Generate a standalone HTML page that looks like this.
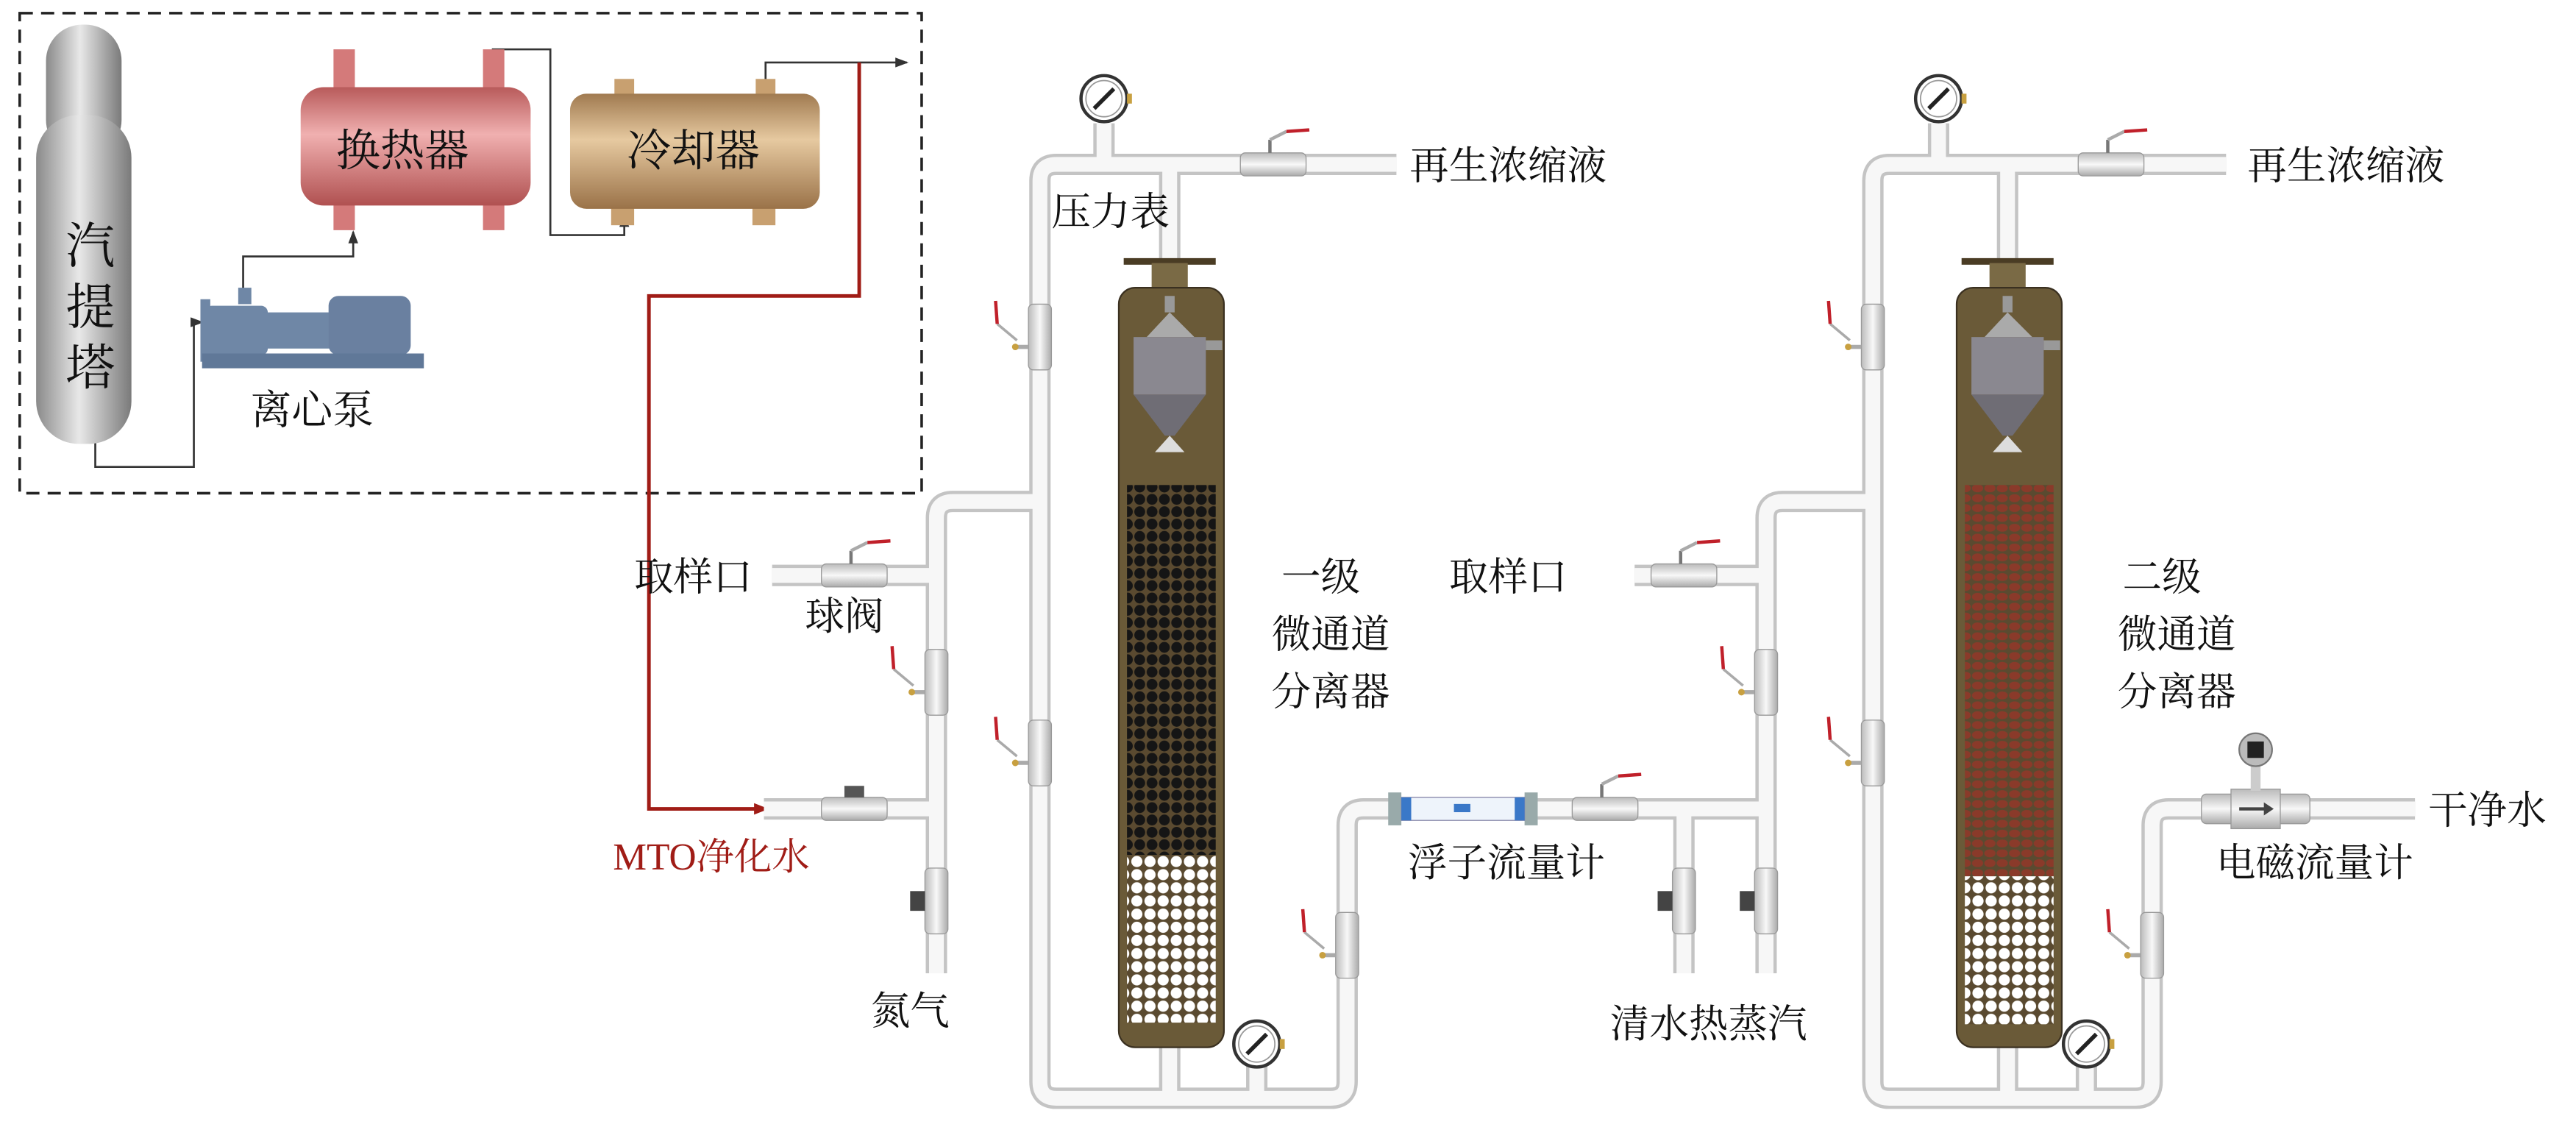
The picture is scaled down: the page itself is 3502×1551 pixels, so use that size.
<!DOCTYPE html>
<html><head><meta charset="utf-8"><style>
html,body{margin:0;padding:0;background:#fff;}
svg{display:block;}
text{font-family:"Liberation Serif","Noto Serif CJK SC","Noto Sans CJK SC",serif;fill:#111;}
</style></head><body>
<svg width="3502" height="1551" viewBox="0 0 1568 694" preserveAspectRatio="none" xmlns="http://www.w3.org/2000/svg">
<defs>
<linearGradient id="gcol" x1="0" x2="1"><stop offset="0" stop-color="#8a8a8a"/><stop offset="0.45" stop-color="#e8e8e8"/><stop offset="1" stop-color="#7a7a7a"/></linearGradient>
<linearGradient id="ghx" x1="0" y1="0" x2="0" y2="1"><stop offset="0" stop-color="#b85a5a"/><stop offset="0.4" stop-color="#f0b0b0"/><stop offset="1" stop-color="#b05050"/></linearGradient>
<linearGradient id="gcl" x1="0" y1="0" x2="0" y2="1"><stop offset="0" stop-color="#a07a50"/><stop offset="0.4" stop-color="#e6c9a0"/><stop offset="1" stop-color="#9a7248"/></linearGradient>
<linearGradient id="gvh" x1="0" y1="0" x2="0" y2="1"><stop offset="0" stop-color="#bbb"/><stop offset="0.5" stop-color="#f8f8f8"/><stop offset="1" stop-color="#aaa"/></linearGradient>
<linearGradient id="gvv" x1="0" x2="1"><stop offset="0" stop-color="#bbb"/><stop offset="0.5" stop-color="#f8f8f8"/><stop offset="1" stop-color="#aaa"/></linearGradient>
<pattern id="pblk" width="7.5" height="7.5" patternUnits="userSpaceOnUse"><rect width="7.5" height="7.5" fill="#5a4a30"/><circle cx="3.75" cy="3.75" r="3.3" fill="#151515"/></pattern>
<pattern id="pred" width="7.5" height="6" patternUnits="userSpaceOnUse"><rect width="7.5" height="6" fill="#5a4a30"/><ellipse cx="3.75" cy="3" rx="3.4" ry="2.4" fill="#8a3a2a"/></pattern>
<pattern id="pwht" width="8" height="8" patternUnits="userSpaceOnUse"><rect width="8" height="8" fill="#5a4a30"/><circle cx="4" cy="4" r="3.4" fill="#fff"/></pattern>
<marker id="arr" markerWidth="8" markerHeight="6" refX="7" refY="3" orient="auto" markerUnits="userSpaceOnUse"><path d="M0,0 L8,3 L0,6 z" fill="#333"/></marker>
<marker id="arrR" markerWidth="9" markerHeight="7" refX="8" refY="3.5" orient="auto" markerUnits="userSpaceOnUse"><path d="M0,0 L9,3.5 L0,7 z" fill="#a01c16"/></marker>
<g id="vh"><rect x="-20" y="-7" width="40" height="14" rx="3" fill="url(#gvh)" stroke="#999" stroke-width="0.6"/><line x1="-2" y1="-7" x2="-2" y2="-15" stroke="#777" stroke-width="2"/><line x1="-2" y1="-15" x2="8" y2="-20" stroke="#aaa" stroke-width="2"/><line x1="8" y1="-20" x2="22" y2="-21" stroke="#c0202a" stroke-width="2"/></g>
<g id="vv"><rect x="-7" y="-20" width="14" height="40" rx="3" fill="url(#gvv)" stroke="#999" stroke-width="0.6"/><line x1="-7" y1="6" x2="-14" y2="6" stroke="#aaa" stroke-width="2.5"/><circle cx="-15" cy="6" r="2" fill="#c8a040"/><line x1="-14" y1="2" x2="-26" y2="-8" stroke="#aaa" stroke-width="1.6"/><line x1="-26" y1="-8" x2="-27" y2="-22" stroke="#c0202a" stroke-width="2"/></g>
<g id="gauge"><circle r="14" fill="#fff" stroke="#333" stroke-width="2"/><circle r="11" fill="none" stroke="#999" stroke-width="0.8"/><line x1="-6" y1="6" x2="6" y2="-6" stroke="#222" stroke-width="2.5"/><rect x="14" y="-3" width="3" height="6" fill="#c8a040"/></g>
</defs>

<rect x="12" y="8" width="549" height="292" fill="none" stroke="#222" stroke-width="1.6" stroke-dasharray="8,5"/>

<polyline points="58,262 58,284 118,284 118,196 123,196" fill="none" stroke="#333" stroke-width="1.2" marker-end="url(#arr)"/>
<polyline points="148,182 148,156 215,156 215,141" fill="none" stroke="#333" stroke-width="1.2" marker-end="url(#arr)"/>
<polyline points="300,38 300,30 335,30 335,143 380,143 380,131" fill="none" stroke="#333" stroke-width="1.2" marker-end="url(#arr)"/>
<polyline points="466,50 466,38 552,38" fill="none" stroke="#333" stroke-width="1.2" marker-end="url(#arr)"/>
<polyline points="523,38 523,180 395,180 395,492 467,492" fill="none" stroke="#a01c16" stroke-width="2.2" marker-end="url(#arrR)"/>

<rect x="28" y="15" width="46" height="80" rx="22" fill="url(#gcol)"/>
<rect x="22" y="70" width="58" height="200" rx="26" fill="url(#gcol)"/>
<text x="55" y="160" font-size="30" text-anchor="middle">汽</text>
<text x="55" y="197" font-size="30" text-anchor="middle">提</text>
<text x="55" y="234" font-size="30" text-anchor="middle">塔</text>

<rect x="203" y="30" width="13" height="27" fill="#d47a7a"/><rect x="294" y="30" width="13" height="27" fill="#d47a7a"/>
<rect x="203" y="122" width="13" height="18" fill="#d47a7a"/><rect x="294" y="122" width="13" height="18" fill="#d47a7a"/>
<rect x="183" y="53" width="140" height="72" rx="14" fill="url(#ghx)"/>
<text x="245" y="101" font-size="27" text-anchor="middle">换热器</text>

<rect x="374" y="48" width="12" height="14" fill="#c8a070"/><rect x="460" y="48" width="12" height="14" fill="#c8a070"/>
<rect x="372" y="122" width="14" height="15" fill="#c8a070"/><rect x="458" y="122" width="14" height="15" fill="#c8a070"/>
<rect x="347" y="57" width="152" height="70" rx="10" fill="url(#gcl)"/>
<text x="422" y="101" font-size="27" text-anchor="middle">冷却器</text>

<g fill="#6f87a6">
<rect x="125" y="186" width="38" height="30" rx="4"/>
<rect x="122" y="182" width="6" height="38"/>
<rect x="160" y="190" width="44" height="22"/>
<rect x="200" y="180" width="50" height="36" rx="6" fill="#6a80a0"/>
<rect x="123" y="215" width="135" height="9" fill="#607898"/>
<rect x="145" y="175" width="8" height="10"/>
</g>
<text x="190" y="258" font-size="25" text-anchor="middle">离心泵</text>
<text x="433" y="529" font-size="23" text-anchor="middle" style="fill:#a01c16">MTO净化水</text>

<g fill="none" stroke-linejoin="round" stroke-linecap="butt">
<g stroke="#c4c4c4" stroke-width="13">
<path d="M850,100 L643,100 Q633,100 633,110 L633,658 Q633,668 643,668 L810,668 Q820,668 820,658 L820,502 Q820,492 830,492 L1075,492"/>
<path d="M672,75 L672,100 M712,100 L712,160 M712,630 L712,668 M765,648 L765,668"/>
<path d="M633,305 L580,305 Q570,305 570,315 L570,592"/>
<path d="M470,350 L570,350 M465,492 L570,492"/>
<path d="M995,350 L1075,350 M1025,492 L1025,592"/>
<path d="M1140,305 L1085,305 Q1075,305 1075,315 L1075,592"/>
<path d="M1355,100 L1150,100 Q1140,100 1140,110 L1140,658 Q1140,668 1150,668 L1300,668 Q1310,668 1310,658 L1310,502 Q1310,492 1320,492 L1470,492"/>
<path d="M1180,75 L1180,100 M1222,100 L1222,160 M1222,630 L1222,668 M1270,648 L1270,668"/>
</g>
<g stroke="#f7f7f7" stroke-width="9">
<path d="M850,100 L643,100 Q633,100 633,110 L633,658 Q633,668 643,668 L810,668 Q820,668 820,658 L820,502 Q820,492 830,492 L1075,492"/>
<path d="M672,75 L672,100 M712,100 L712,160 M712,630 L712,668 M765,648 L765,668"/>
<path d="M633,305 L580,305 Q570,305 570,315 L570,592"/>
<path d="M470,350 L570,350 M465,492 L570,492"/>
<path d="M995,350 L1075,350 M1025,492 L1025,592"/>
<path d="M1140,305 L1085,305 Q1075,305 1075,315 L1075,592"/>
<path d="M1355,100 L1150,100 Q1140,100 1140,110 L1140,658 Q1140,668 1150,668 L1300,668 Q1310,668 1310,658 L1310,502 Q1310,492 1320,492 L1470,492"/>
<path d="M1180,75 L1180,100 M1222,100 L1222,160 M1222,630 L1222,668 M1270,648 L1270,668"/>
</g>
</g>

<g>
<rect x="684" y="157" width="56" height="4" fill="#4a3c24"/><rect x="701" y="160" width="22" height="18" fill="#7a6a45"/>
<rect x="684" y="628" width="56" height="4" fill="#4a3c24"/><rect x="701" y="612" width="22" height="18" fill="#7a6a45"/>
<rect x="681" y="175" width="64" height="462" rx="10" fill="#6a5a38" stroke="#3a3020" stroke-width="1"/>
<rect x="686" y="295" width="54" height="225" fill="url(#pblk)"/>
<rect x="686" y="520" width="54" height="102" fill="url(#pwht)"/>
<rect x="709" y="180" width="6" height="10" fill="#999"/>
<path d="M698,205 L712,190 L727,205 Z" fill="#aaa"/>
<rect x="690" y="205" width="44" height="35" fill="#8a8890"/>
<path d="M690,240 L734,240 L715,265 L709,265 Z" fill="#6f6d75"/>
<path d="M703,275 L712,265 L721,275 Z" fill="#ddd"/>
<rect x="734" y="207" width="10" height="6" fill="#999"/>
</g>
<g>
<rect x="1194" y="157" width="56" height="4" fill="#4a3c24"/><rect x="1211" y="160" width="22" height="18" fill="#7a6a45"/>
<rect x="1194" y="628" width="56" height="4" fill="#4a3c24"/><rect x="1211" y="612" width="22" height="18" fill="#7a6a45"/>
<rect x="1191" y="175" width="64" height="462" rx="10" fill="#6a5a38" stroke="#3a3020" stroke-width="1"/>
<rect x="1196" y="295" width="54" height="238" fill="url(#pred)"/>
<rect x="1196" y="533" width="54" height="90" fill="url(#pwht)"/>
<rect x="1219" y="180" width="6" height="10" fill="#999"/>
<path d="M1208,205 L1222,190 L1237,205 Z" fill="#aaa"/>
<rect x="1200" y="205" width="44" height="35" fill="#8a8890"/>
<path d="M1200,240 L1244,240 L1225,265 L1219,265 Z" fill="#6f6d75"/>
<path d="M1213,275 L1222,265 L1231,275 Z" fill="#ddd"/>
<rect x="1244" y="207" width="10" height="6" fill="#999"/>
</g>

<use href="#gauge" x="672" y="60"/><use href="#gauge" x="1180" y="60"/>
<use href="#gauge" x="765" y="635"/><use href="#gauge" x="1270" y="635"/>

<use href="#vh" x="775" y="100"/><use href="#vh" x="1285" y="100"/>
<use href="#vh" x="520" y="350"/><use href="#vh" x="1025" y="350"/>
<use href="#vh" x="977" y="492"/>
<g transform="translate(520,492)"><rect x="-20" y="-7" width="40" height="14" rx="3" fill="url(#gvh)" stroke="#999" stroke-width="0.6"/><rect x="-6" y="-14" width="12" height="7" fill="#555"/></g>
<use href="#vv" x="633" y="205"/><use href="#vv" x="633" y="458"/>
<use href="#vv" x="570" y="415"/><use href="#vv" x="1075" y="415"/>
<use href="#vv" x="1140" y="205"/><use href="#vv" x="1140" y="458"/>
<use href="#vv" x="820" y="575"/><use href="#vv" x="1310" y="575"/>
<g transform="translate(570,548)"><rect x="-7" y="-20" width="14" height="40" rx="3" fill="url(#gvv)" stroke="#999" stroke-width="0.6"/><rect x="-16" y="-6" width="9" height="12" fill="#444"/></g>
<g transform="translate(1025,548)"><rect x="-7" y="-20" width="14" height="40" rx="3" fill="url(#gvv)" stroke="#999" stroke-width="0.6"/><rect x="-16" y="-6" width="9" height="12" fill="#444"/></g>
<g transform="translate(1075,548)"><rect x="-7" y="-20" width="14" height="40" rx="3" fill="url(#gvv)" stroke="#999" stroke-width="0.6"/><rect x="-16" y="-6" width="9" height="12" fill="#444"/></g>

<rect x="845" y="482" width="8" height="20" fill="#9aa"/><rect x="928" y="482" width="8" height="20" fill="#9aa"/>
<rect x="853" y="485" width="75" height="14" fill="#eef4fb" stroke="#88a" stroke-width="0.6"/>
<rect x="853" y="485" width="6" height="14" fill="#3a78c8"/><rect x="922" y="485" width="6" height="14" fill="#3a78c8"/>
<rect x="885" y="489" width="10" height="5" fill="#3a78c8"/>

<rect x="1340" y="483" width="66" height="18" rx="3" fill="url(#gvh)" stroke="#999" stroke-width="0.6"/>
<rect x="1358" y="480" width="30" height="24" fill="url(#gvh)" stroke="#999" stroke-width="0.6"/>
<path d="M1363,492 L1380,492" stroke="#444" stroke-width="2"/><path d="M1378,488 L1384,492 L1378,496 Z" fill="#444"/>
<rect x="1370" y="465" width="6" height="16" fill="#ccc"/>
<circle cx="1373" cy="456" r="10" fill="#bbb" stroke="#777"/><rect x="1368" y="451" width="10" height="10" fill="#222"/>

<g font-size="24">
<text x="858" y="109">再生浓缩液</text>
<text x="1368" y="109">再生浓缩液</text>
<text x="640" y="137">压力表</text>
<text x="386" y="359">取样口</text>
<text x="882" y="359">取样口</text>
<text x="490" y="383">球阀</text>
<text x="530" y="623">氮气</text>
<text x="780" y="359">一级</text>
<text x="774" y="394">微通道</text>
<text x="774" y="429">分离器</text>
<text x="1292" y="359">二级</text>
<text x="1289" y="394">微通道</text>
<text x="1289" y="429">分离器</text>
<text x="857" y="533">浮子流量计</text>
<text x="980" y="631">清水热蒸汽</text>
<text x="1349" y="533">电磁流量计</text>
<text x="1478" y="501">干净水</text>
</g>
</svg>
</body></html>
